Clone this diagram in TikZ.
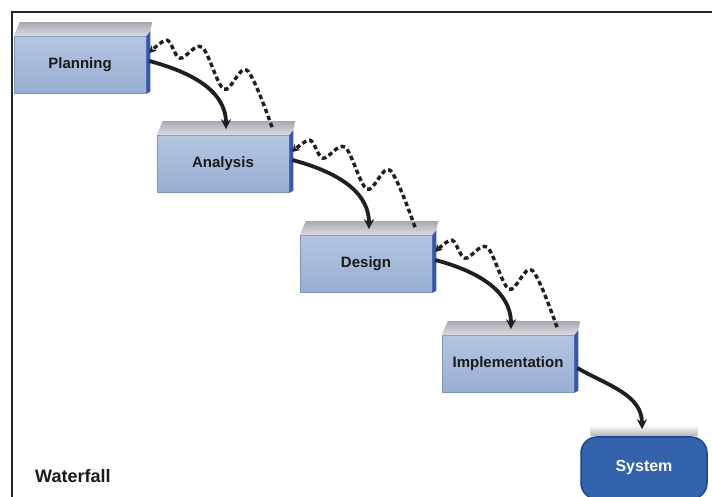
\documentclass[tikz,border=0pt]{standalone}
\usepackage{fontspec}
\setmainfont{Liberation Sans}
\usetikzlibrary{arrows.meta,calc}
\definecolor{boxtop}{HTML}{B4C5E1}
\definecolor{boxbot}{HTML}{98AED3}
\definecolor{boxedge}{HTML}{7F93BC}
\definecolor{facetop}{HTML}{A9A9B3}
\definecolor{facebot}{HTML}{DCDCE3}
\definecolor{sideblue}{HTML}{3558AD}
\definecolor{sysblue}{HTML}{3463AE}
\definecolor{sysedge}{HTML}{1E4590}
\newcommand\boxfaces[1]{%
  \shade[top color=facetop,bottom color=facebot] (#1.north west) -- ++(6,14) -- ($(#1.north east)+(6,14)$) -- ($(#1.north east)+(4,5)$) -- (#1.north east) -- cycle;
  \fill[sideblue] (#1.north east) -- ++(4,5) -- ($(#1.south east)+(4,2)$) -- (#1.south east) -- cycle;
}
\newcommand\flowpair[2]{%
  \draw[solidarr] ([shift={(3,4)}]#1.east) to[out=-15,in=90] ([shift={(3,6)}]#2.north);
  \draw[wave] plot[smooth, tension=0.55] coordinates {($(#2.north)+(49,8)$) ($(#2.north)+(24,65)$) ($(#2.north)+(1,46)$) ($(#2.north)+(-21,88)$) ($(#2.north)+(-43,77)$) ($(#2.north)+(-56,95)$) ([shift={(3,12)}]#1.east)};
}
\begin{document}
\begin{tikzpicture}[x=1pt,y=1pt,
  front/.style={draw=boxedge, line width=0.6pt, top color=boxtop, bottom color=boxbot,
    minimum width=132pt, minimum height=57pt, inner sep=0pt,
    font=\bfseries\fontsize{15}{15}\selectfont, text=black!90},
  solidarr/.style={line width=3.8pt, draw=black!88, -{Stealth[length=10pt,width=10pt]}},
  wave/.style={line width=3.4pt, draw=black!88, dash pattern=on 4.5pt off 3pt, -{Stealth[length=7pt,width=8pt]}},
  sysbox/.style={draw=sysedge, line width=1.5pt, fill=sysblue, rounded corners=16pt,
    minimum width=126pt, minimum height=62pt, inner sep=0pt, text=white,
    font=\bfseries\fontsize{16}{16}\selectfont},
  title/.style={font=\bfseries\fontsize{18}{18}\selectfont, text=black!90, inner sep=0pt}
]
\useasboundingbox (0,0) rectangle (712,497);
\fill[white] (0,0) rectangle (712,497);
\draw[line width=2.8pt, black!85] (12,-5) -- (12,485) -- (720,485);

\node[front] (plan) at (80,432) {Planning};
\node[front] (ana) at (223,333) {Analysis};
\node[front] (des) at (366,233) {Design};
\node[front] (imp) at (508,133) {Implementation};
\boxfaces{plan}
\boxfaces{ana}
\boxfaces{des}
\boxfaces{imp}

\node[sysbox] (sys) at (644,29) {System};
\shade[top color=white, bottom color=gray!55] ($(sys.north west)+(10,1)$) rectangle ($(sys.north east)+(-10,11)$);

\flowpair{plan}{ana}
\flowpair{ana}{des}
\flowpair{des}{imp}
\draw[solidarr] ([shift={(3,-4)}]imp.east) to[out=-30,in=90] ([shift={(-2,7)}]sys.north);

\node[title, anchor=base west] (wf) at (35,14) {Waterfall};
\end{tikzpicture}
\end{document}
